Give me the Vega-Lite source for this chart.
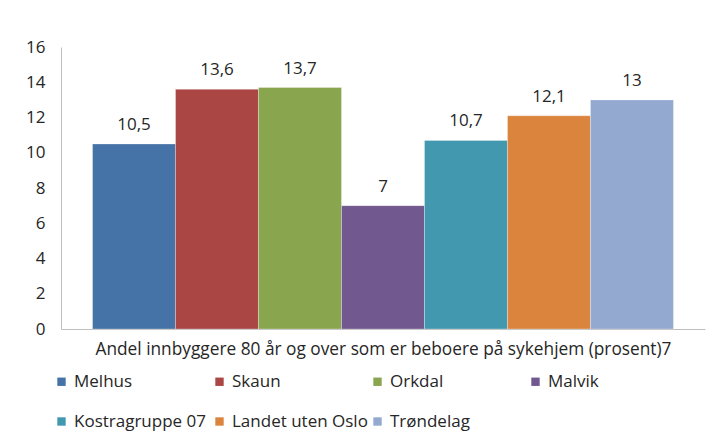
{
  "$schema": "https://vega.github.io/schema/vega-lite/v6.json",
  "width": 644,
  "height": 282,
  "autosize": {"type": "none"},
  "padding": {"left": 61, "top": 47, "right": 12, "bottom": 114},
  "background": "white",
  "config": {
    "view": {"stroke": null},
    "font": "Open Sans",
    "locale": {"number": {"decimal": ",", "thousands": " ", "grouping": [3], "currency": ["", " kr"]}}
  },
  "data": {
    "values": [
      {"kommune": "Melhus", "verdi": 10.5},
      {"kommune": "Skaun", "verdi": 13.6},
      {"kommune": "Orkdal", "verdi": 13.7},
      {"kommune": "Malvik", "verdi": 7},
      {"kommune": "Kostragruppe 07", "verdi": 10.7},
      {"kommune": "Landet uten Oslo", "verdi": 12.1},
      {"kommune": "Trøndelag", "verdi": 13}
    ]
  },
  "encoding": {
    "x": {
      "field": "kommune",
      "type": "nominal",
      "sort": null,
      "scale": {"paddingInner": 0, "paddingOuter": 0.38},
      "axis": {
        "title": "Andel innbyggere 80 år og over som er beboere på sykehjem (prosent)7",
        "labels": false,
        "ticks": false,
        "domainColor": "#bfbfbf",
        "titleFont": "Open Sans",
        "titleFontSize": 17.3,
        "titleFontWeight": "normal",
        "titleColor": "#262626",
        "titlePadding": 11
      }
    },
    "y": {
      "field": "verdi",
      "type": "quantitative",
      "scale": {"domain": [0, 16]},
      "axis": {
        "title": null,
        "values": [0, 2, 4, 6, 8, 10, 12, 14, 16],
        "grid": false,
        "ticks": false,
        "domainColor": "#bfbfbf",
        "labelFontSize": 17,
        "labelColor": "#262626",
        "labelPadding": 16
      }
    }
  },
  "layer": [
    {
      "mark": {"type": "bar", "stroke": "white", "strokeOpacity": 0.3, "strokeWidth": 1},
      "encoding": {
        "color": {
          "field": "kommune",
          "type": "nominal",
          "sort": null,
          "scale": {
            "domain": ["Melhus", "Skaun", "Orkdal", "Malvik", "Kostragruppe 07", "Landet uten Oslo", "Trøndelag"],
            "range": ["#4572A7", "#AA4643", "#89A54E", "#71588F", "#4198AF", "#DB843D", "#93A9CF"]
          },
          "legend": {
            "title": null,
            "orient": "none",
            "legendX": -8,
            "legendY": 326,
            "direction": "horizontal",
            "columns": 4,
            "gridAlign": "all",
            "columnPadding": 1,
            "rowPadding": 22,
            "symbolType": "square",
            "symbolSize": 70,
            "symbolStrokeWidth": 0,
            "labelFontSize": 17,
            "labelColor": "#262626",
            "labelOffset": 4
          }
        }
      }
    },
    {
      "mark": {"type": "text", "baseline": "bottom", "dy": -10, "fontSize": 17, "color": "#262626"},
      "encoding": {
        "text": {"field": "verdi", "type": "quantitative", "format": ".3~g"}
      }
    }
  ]
}
